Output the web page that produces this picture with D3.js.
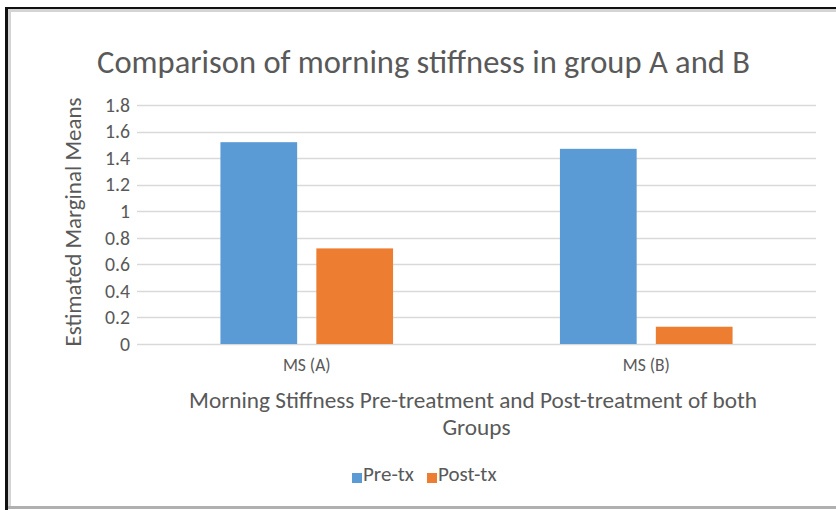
<!DOCTYPE html>
<html>
<head>
<meta charset="utf-8">
<script src="https://cdn.jsdelivr.net/npm/d3@7/dist/d3.min.js"></script>
<style>
  html, body { margin: 0; padding: 0; background: #fff; }
  svg { display: block; }
  text { font-family: Carlito, Calibri, Lato, "Open Sans", sans-serif; fill: #595959; }
</style>
</head>
<body>
<svg id="chart" width="836" height="510"></svg>
<script>
// Chart data
const categories = ["MS (A)", "MS (B)"];
const seriesNames = ["Pre-tx", "Post-tx"];
const preTx = [1.52, 1.47];
const postTx = [0.72, 0.13];
const yTicks = [0, 0.2, 0.4, 0.6, 0.8, 1, 1.2, 1.4, 1.6, 1.8];
const seriesColors = ["#5B9BD5", "#ED7D31"];

const titleText = "Comparison of morning stiffness in group A and B";
const xTitleLines = ["Morning Stiffness Pre-treatment and Post-treatment of both", "Groups"];
const yTitleText = "Estimated Marginal Means";

const svg = d3.select("#chart");
const W = 836, H = 510;

// Frame around the chart
svg.append("rect").attr("x", 0).attr("y", 0).attr("width", W).attr("height", H).attr("fill", "#fff");
svg.append("rect").attr("x", 8).attr("y", 9).attr("width", W - 8).attr("height", 3).attr("fill", "#d4d4d4");
svg.append("rect").attr("x", 8).attr("y", 9).attr("width", 3).attr("height", 498).attr("fill", "#d4d4d4");
svg.append("rect").attr("x", 8).attr("y", 506).attr("width", W - 8).attr("height", 3).attr("fill", "#b0b0b0");
svg.append("rect").attr("x", 5).attr("y", 7).attr("width", W - 5).attr("height", 2).attr("fill", "#111");
svg.append("rect").attr("x", 5).attr("y", 7).attr("width", 3).attr("height", H - 7).attr("fill", "#111");

// Scale a text element's font size so its rendered width matches a target width
function fitWidth(sel, target) {
  const node = sel.node();
  const base = parseFloat(sel.style("font-size"));
  const len = node.getComputedTextLength();
  const size = len > 0 ? base * target / len : base;
  sel.style("font-size", size.toFixed(2) + "px");
  return size;
}

// Plot area
const plot = { left: 137, right: 816, top: 105, bottom: 344 };

const y = d3.scaleLinear().domain([0, 1.8]).range([plot.bottom, plot.top]);
const x0 = d3.scaleBand().domain(categories).range([plot.left, plot.right]).padding(0);
const x1 = d3.scaleBand().domain(seriesNames).range([0, x0.bandwidth()])
  .paddingInner(0.2).paddingOuter(0.87);

// Gridlines
svg.append("g").selectAll("line").data(yTicks).join("line")
  .attr("x1", plot.left).attr("x2", plot.right)
  .attr("y1", d => Math.round(y(d)) + 0.5).attr("y2", d => Math.round(y(d)) + 0.5)
  .attr("stroke", "#d9d9d9").attr("stroke-width", 1.3);

// Y axis tick labels
const yAxis = d3.axisLeft(y).tickValues(yTicks).tickSize(0).tickPadding(7)
  .tickFormat(d => d3.format("")(+d.toFixed(1)));
const yAxisG = svg.append("g").attr("transform", `translate(${plot.left},0)`).call(yAxis);
yAxisG.select(".domain").remove();
const yLabels = yAxisG.selectAll("text").style("font-size", "18px").style("fill", "#595959");
const topLabel = yLabels.filter(d => d === 1.8);
const tickSize = fitWidth(topLabel, 25);
yLabels.style("font-size", tickSize.toFixed(2) + "px");

// Bars
const rows = categories.map((c, i) => ({ cat: c, values: [preTx[i], postTx[i]] }));
const groups = svg.append("g").selectAll("g").data(rows).join("g")
  .attr("transform", d => `translate(${x0(d.cat)},0)`);
groups.selectAll("rect").data(d => d.values.map((v, j) => ({ s: seriesNames[j], v, j })))
  .join("rect")
  .attr("x", d => x1(d.s))
  .attr("y", d => y(d.v))
  .attr("width", x1.bandwidth())
  .attr("height", d => y(0) - y(d.v))
  .attr("fill", d => seriesColors[d.j]);

// Category labels
const xAxis = d3.axisBottom(x0).tickSize(0).tickPadding(15);
const xAxisG = svg.append("g").attr("transform", `translate(0,${plot.bottom})`).call(xAxis);
xAxisG.select(".domain").remove();
xAxisG.selectAll("text").style("font-size", "17.5px").style("fill", "#595959");

// Title
const title = svg.append("text").attr("x", 423.5).attr("y", 73)
  .attr("text-anchor", "middle").style("font-size", "30px").text(titleText);
fitWidth(title, 653);

// X axis title (two lines)
const xt1 = svg.append("text").attr("x", 473).attr("y", 408)
  .attr("text-anchor", "middle").style("font-size", "19px").text(xTitleLines[0]);
const fs = fitWidth(xt1, 568);
svg.append("text").attr("x", 476.5).attr("y", 435)
  .attr("text-anchor", "middle").style("font-size", fs.toFixed(2) + "px").text(xTitleLines[1]);

// Y axis title
const yt = svg.append("text")
  .attr("transform", "translate(81,222) rotate(-90)")
  .attr("text-anchor", "middle").style("font-size", "18px").text(yTitleText);
fitWidth(yt, 249);

// Legend
const legendItems = [
  { name: seriesNames[0], color: seriesColors[0], x: 352 },
  { name: seriesNames[1], color: seriesColors[1], x: 427 }
];
const lg = svg.append("g").selectAll("g").data(legendItems).join("g")
  .attr("transform", d => `translate(${d.x},0)`);
lg.append("rect").attr("x", 0).attr("y", 473).attr("width", 10).attr("height", 10)
  .attr("fill", d => d.color);
const lgText = lg.append("text").attr("x", 11).attr("y", 481).style("font-size", "18px").text(d => d.name);
const legendSize = fitWidth(d3.select(lgText.nodes()[0]), 51);
lgText.style("font-size", legendSize.toFixed(2) + "px");
</script>
</body>
</html>
